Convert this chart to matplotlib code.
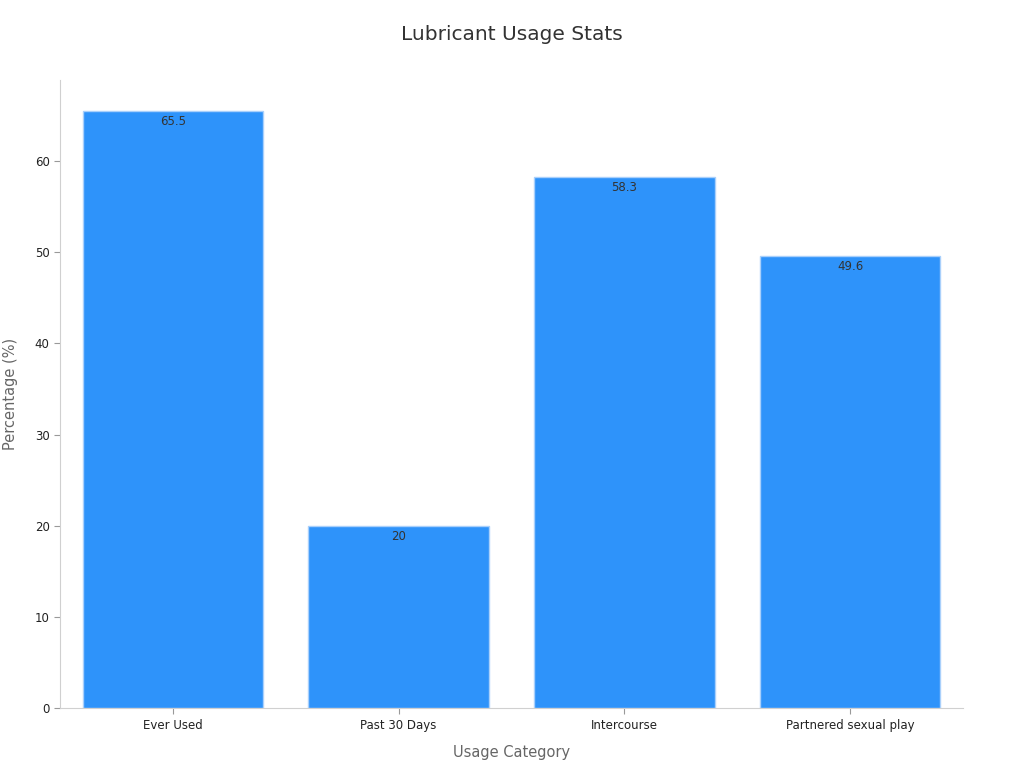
import matplotlib
matplotlib.use("Agg")
import matplotlib.pyplot as plt

# data
categories = ["Ever Used", "Past 30 Days", "Intercourse", "Partnered sexual play"]
values = [65.5, 20, 58.3, 49.6]
value_labels = ["65.5", "20", "58.3", "49.6"]

C_BAR = "#2E93FA"
C_EDGE = "#A9D0FB"
C_AXIS = "#D0D0D0"

fig = plt.figure(figsize=(10.24, 7.68), dpi=100)
ax = fig.add_axes([0.0586, 0.078, 0.8818, 0.818])

x = range(len(categories))
bars = ax.bar(x, values, width=0.8, color=C_BAR, edgecolor=C_EDGE, linewidth=1)

for b, lab in zip(bars, value_labels):
    ax.annotate(lab, (b.get_x() + b.get_width() / 2, b.get_height()),
                xytext=(0, -3), textcoords="offset points",
                ha="center", va="top", fontsize=8.5, color="#333333")

ax.set_xlim(-0.5, 3.5)
ax.set_ylim(0, 68.9)
ax.set_xticks(list(x))
ax.set_xticklabels(categories, fontsize=8.5, color="#222222")
ax.set_yticks([0, 10, 20, 30, 40, 50, 60])
ax.tick_params(axis="y", labelsize=8.5, colors="#222222")
ax.tick_params(axis="both", color="#999999", length=4)

for side in ("top", "right"):
    ax.spines[side].set_visible(False)
for side in ("left", "bottom"):
    ax.spines[side].set_color(C_AXIS)

ax.set_xlabel("Usage Category", fontsize=10.5, color="#666666", labelpad=10)
ax.set_ylabel("Percentage (%)", fontsize=10.5, color="#666666", labelpad=12)
fig.suptitle("Lubricant Usage Stats", fontsize=14.5, color="#333333", y=0.968)

fig.savefig("out.png", dpi=100)
